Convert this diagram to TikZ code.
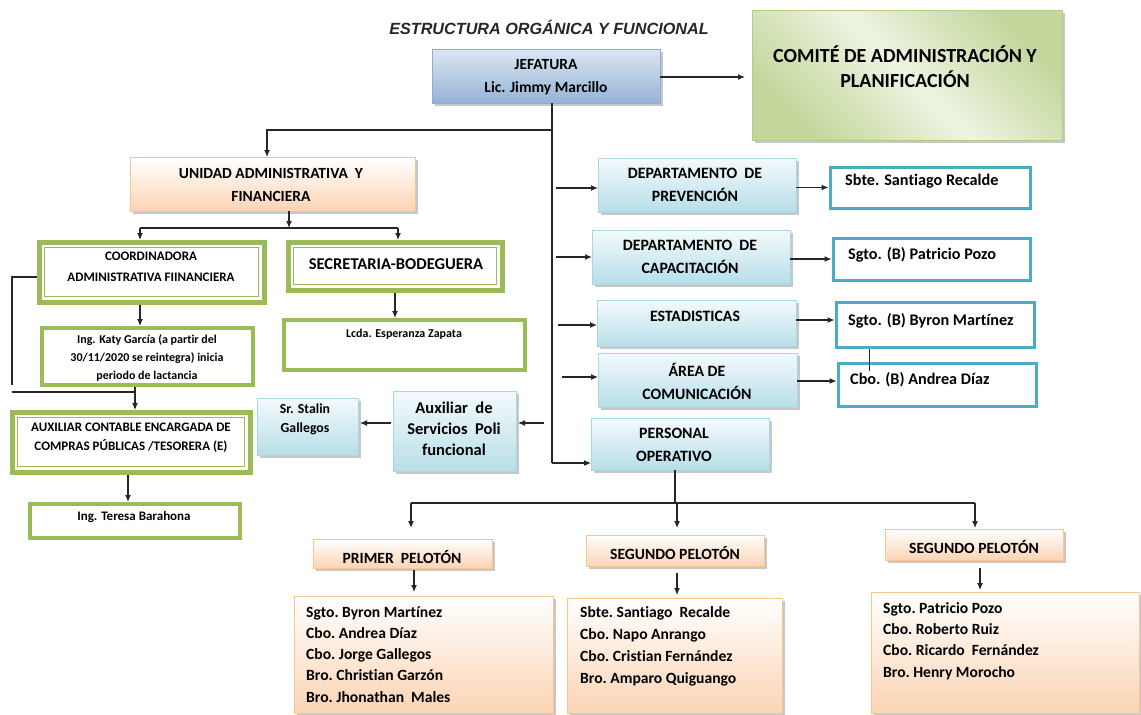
\documentclass[tikz,border=0pt]{standalone}
\usepackage{fontspec}
\setmainfont{Carlito}[Ligatures=NoCommon]
\newfontfamily\titlefont{Liberation Sans}
\usetikzlibrary{arrows.meta,shadows,calc}

\definecolor{arrc}{HTML}{262626}
\definecolor{gbord}{HTML}{9BBB59}
\definecolor{tealb}{HTML}{4BACC6}
\definecolor{obot}{HTML}{FBD4B4}
\definecolor{obord}{HTML}{F9C58F}
\definecolor{btop}{HTML}{F4FAFC}
\definecolor{bbot}{HTML}{B7DEE8}
\definecolor{bbord}{HTML}{A8D8E4}
\definecolor{jtop}{HTML}{DCE6F2}
\definecolor{jbot}{HTML}{95B3D7}
\definecolor{jbord}{HTML}{8EACD4}
\definecolor{cdark}{HTML}{C3D69B}
\definecolor{clight}{HTML}{EEF4E2}
\definecolor{cbord}{HTML}{B5CC88}

\newcommand\mkbox[6]{\node[#2, minimum width=#5pt-#3pt, minimum height=#6pt-#4pt] (#1) at (#3,#4) {};}

\begin{document}
\begin{tikzpicture}[x=1pt,y=-1pt,
  box/.style={rectangle, inner sep=0pt, outer sep=0pt, anchor=north west},
  shad/.style={drop shadow={shadow xshift=2.5pt, shadow yshift=-2.5pt, fill=black, opacity=0.22}},
  jefbox/.style={box, shad, draw=jbord, line width=0.8pt, top color=jtop, bottom color=jbot},
  combox/.style={box, shad, draw=cbord, line width=0.8pt, top color=cdark, bottom color=cdark, middle color=clight, shading angle=-45},
  orbox/.style={box, shad, draw=obord, line width=0.8pt, top color=white, bottom color=obot},
  bluebox/.style={box, shad, draw=bbord, line width=0.8pt, top color=btop, bottom color=bbot},
  grbox/.style={box, draw=gbord, line width=4pt, fill=white},
  dgbox/.style={box, draw=gbord, line width=5pt, fill=white},
  tlbox/.style={box, draw=tealb, line width=3pt, fill=white},
  inner/.style={draw=gbord, line width=1.2pt},
  txt/.style={inner sep=0pt, align=center, font=\bfseries, text=black},
  ln/.style={draw=arrc, line width=1.1pt},
  arr/.style={ln, -{Latex[length=7pt,width=6pt]}},
]
\useasboundingbox (0,0) rectangle (1141,715);
\fill[white] (0,0) rectangle (1141,715);

% title
\node[txt, font=\titlefont\bfseries\itshape\fontsize{16.2}{18}\selectfont, text=arrc] (title) at (549,27) {ESTRUCTURA ORGÁNICA Y FUNCIONAL};

% boxes
\mkbox{jef}{jefbox}{432}{49}{660}{103}
\mkbox{com}{combox}{752}{10}{1062}{140}
\mkbox{uaf}{orbox}{130}{157}{415}{211}
\mkbox{cad}{dgbox}{39}{242}{264}{302}
\mkbox{sec}{dgbox}{288}{242}{502}{290}
\mkbox{katy}{grbox}{42}{328}{253}{385}
\mkbox{esp}{grbox}{284}{320}{525}{370}
\mkbox{aux}{dgbox}{12}{412}{250}{472}
\mkbox{ter}{grbox}{30}{504}{240}{538}
\mkbox{asv}{bluebox}{393}{391}{516}{471}
\mkbox{stl}{bluebox}{257}{398}{358}{455}
\mkbox{dp}{bluebox}{598}{158}{796}{212}
\mkbox{dc}{bluebox}{592}{230}{790}{284}
\mkbox{est}{bluebox}{597}{300}{796}{346}
\mkbox{ac}{bluebox}{598}{353}{797}{407}
\mkbox{po}{bluebox}{591}{418}{769}{470}
\mkbox{sb}{tlbox}{830}{167}{1030}{208}
\mkbox{pz}{tlbox}{833}{238}{1030}{280}
\mkbox{by}{tlbox}{836}{302}{1034}{347}
\mkbox{ad}{tlbox}{838}{363}{1036}{406}
\mkbox{p1}{orbox}{313}{539}{492}{568}
\mkbox{p2}{orbox}{586}{535}{764}{566}
\mkbox{p3}{orbox}{885}{529}{1063}{560}
\mkbox{l1}{orbox}{294}{596}{553}{713}
\mkbox{l2}{orbox}{567}{598}{782}{713}
\mkbox{l3}{orbox}{871}{592}{1139}{713}

% inner lines of double green boxes
\draw[inner] ([xshift=5.5pt,yshift=-5.5pt]cad.north west) rectangle ([xshift=-5.5pt,yshift=5.5pt]cad.south east);
\draw[inner] ([xshift=5.5pt,yshift=-5.5pt]sec.north west) rectangle ([xshift=-5.5pt,yshift=5.5pt]sec.south east);
\draw[inner] ([xshift=5.5pt,yshift=-5.5pt]aux.north west) rectangle ([xshift=-5.5pt,yshift=5.5pt]aux.south east);

% texts
\node[txt, font=\bfseries\fontsize{15.5}{23}\selectfont] (tjef) at (546,77.5) {JEFATURA\\Lic. Jimmy Marcillo};
\node[txt, font=\bfseries\fontsize{20}{25}\selectfont] (tcom) at (905,66.5) {COMITÉ DE ADMINISTRACIÓN Y\\PLANIFICACIÓN};
\node[txt, font=\bfseries\fontsize{15.5}{23}\selectfont] (tuaf) at (271,184.5) {UNIDAD ADMINISTRATIVA\ \ Y\\FINANCIERA};
\node[txt, font=\bfseries\fontsize{13}{21}\selectfont] (tcad) at (151,266.5) {COORDINADORA\\ADMINISTRATIVA FIINANCIERA};
\node[txt, font=\bfseries\fontsize{16.5}{18}\selectfont] (tsec) at (396,264) {SECRETARIA-BODEGUERA};
\node[txt, font=\bfseries\fontsize{12}{18}\selectfont] (tkaty) at (147,358) {Ing. Katy García (a partir del\\30/11/2020 se reintegra) inicia\\periodo de lactancia};
\node[txt, font=\bfseries\fontsize{12}{14}\selectfont] (tesp) at (404,334) {Lcda. Esperanza Zapata};
\node[txt, font=\bfseries\fontsize{13}{19}\selectfont] (taux) at (131,437.5) {AUXILIAR CONTABLE ENCARGADA DE\\COMPRAS PÚBLICAS /TESORERA (E)};
\node[txt, font=\bfseries\fontsize{13}{15}\selectfont] (tter) at (134,517) {Ing. Teresa Barahona};
\node[txt, font=\bfseries\fontsize{16.5}{21}\selectfont] (tasv) at (454,429) {Auxiliar\ \ de\\Servicios\ \ Poli\\funcional};
\node[txt, font=\bfseries\fontsize{13.8}{19}\selectfont] (tstl) at (305,419.5) {Sr. Stalin\\Gallegos};
\node[txt, font=\bfseries\fontsize{15.8}{23}\selectfont] (tdp) at (695,184.5) {DEPARTAMENTO\ \ DE\\PREVENCIÓN};
\node[txt, font=\bfseries\fontsize{15.8}{23}\selectfont] (tdc) at (690,256.5) {DEPARTAMENTO\ \ DE\\CAPACITACIÓN};
\node[txt, font=\bfseries\fontsize{15.8}{18}\selectfont] (test) at (695,316) {ESTADISTICAS};
\node[txt, font=\bfseries\fontsize{15.8}{23}\selectfont] (tac) at (697,381.5) {ÁREA\ DE\\COMUNICACIÓN};
\node[txt, font=\bfseries\fontsize{15.8}{23}\selectfont] (tpo) at (674,444.5) {PERSONAL\\OPERATIVO};
\node[txt, anchor=west, font=\bfseries\fontsize{16.2}{18}\selectfont] (tsb) at (845,181) {Sbte. Santiago Recalde};
\node[txt, anchor=west, font=\bfseries\fontsize{16.2}{18}\selectfont] (tpz) at (848,255) {Sgto. (B) Patricio Pozo};
\node[txt, anchor=west, font=\bfseries\fontsize{16.2}{18}\selectfont] (tby) at (848,321) {Sgto. (B) Byron Martínez};
\node[txt, anchor=west, font=\bfseries\fontsize{16.2}{18}\selectfont] (tad) at (850,380) {Cbo. (B) Andrea Díaz};
\node[txt, font=\bfseries\fontsize{15.6}{18}\selectfont] (tp1) at (402,557) {PRIMER\ \ PELOTÓN};
\node[txt, font=\bfseries\fontsize{15.6}{18}\selectfont] (tp2) at (675,553) {SEGUNDO PELOTÓN};
\node[txt, font=\bfseries\fontsize{15.6}{18}\selectfont] (tp3) at (974,547) {SEGUNDO PELOTÓN};
\node[txt, anchor=base west, align=left, font=\bfseries\fontsize{15.6}{21.25}\selectfont] (tl1) at (306,702) {Sgto.\ Byron\ Martínez\\Cbo.\ Andrea Díaz\\Cbo.\ Jorge Gallegos\\Bro.\ Christian Garzón\\Bro.\ Jhonathan\ \ Males};
\node[txt, anchor=base west, align=left, font=\bfseries\fontsize{15.6}{21.7}\selectfont] (tl2) at (580,683) {Sbte.\ Santiago\ \ Recalde\\Cbo.\ Napo Anrango\\Cbo.\ Cristian Fernández\\Bro.\ Amparo Quiguango};
\node[txt, anchor=base west, align=left, font=\bfseries\fontsize{15.6}{21.3}\selectfont] (tl3) at (883,677) {Sgto.\ Patricio Pozo\\Cbo.\ Roberto Ruiz\\Cbo.\ Ricardo\ \ Fernández\\Bro.\ Henry Morocho};

% connectors
\coordinate (j0) at (552,103);
\coordinate (j1) at (552,130);
\coordinate (j2) at (552,463);
\draw[arr, shorten >=7pt] (jef.east |- 0,77) -- (com.west |- 0,77);
\draw[ln] (j0) -- (j2);
\draw[arr] (j2) -- (j2 -| po.west);
\draw[arr] (j1) -| ([xshift=-5.5pt]uaf.north);

% left branch
\coordinate (u1) at (140,228);
\coordinate (u2) at (398,228);
\draw[arr] ([xshift=16.5pt]uaf.south) -- ++(0,17);
\draw[ln] (u1) -- (u2);
\draw[arr, shorten >=2pt] (u1) -- (u1 |- cad.north);
\draw[arr, shorten >=2pt] (u2) -- (u2 |- sec.north);
\draw[arr, shorten <=2.5pt, shorten >=2pt] ([xshift=-11.5pt]cad.south) -- ++(0,26);
\draw[ln] ([xshift=-2.5pt,yshift=-5pt]cad.west) -- ++(-24.5,0) -- ++(0,108);
\coordinate (b1) at (12,392);
\draw[ln] (b1) -- ++(123,0);
\draw[arr, shorten <=2pt, shorten >=2pt] ([xshift=-12.5pt]katy.south) -- ++(0,27);
\draw[arr, shorten <=2.5pt, shorten >=2pt] ([xshift=-3pt]aux.south) -- ++(0,32);
\draw[arr, shorten <=2.5pt, shorten >=2pt] (sec.south) -- ++(0,30);
\draw[arr] ([xshift=28pt,yshift=8pt]asv.east) -- ([xshift=2pt,yshift=8pt]asv.east);
\draw[arr] ([xshift=-2pt,yshift=8pt]asv.west) -- ++(-31,0);

% right departments
\draw[arr] ([xshift=-42pt,yshift=-3pt]dp.west) -- ([yshift=-3pt]dp.west);
\draw[arr, shorten >=1.5pt] (dp.east |- sb.west) -- (sb.west);
\draw[arr] ([xshift=-36pt]dc.west) -- (dc.west);
\draw[arr, shorten >=1.5pt] (dc.east |- pz.west) -- (pz.west);
\draw[arr] ([xshift=-39pt,yshift=-2pt]est.west) -- ([yshift=-2pt]est.west);
\draw[arr] ([yshift=3pt]est.east) -- ++(38.5,0);
\draw[arr] ([xshift=-36pt,yshift=3pt]ac.west) -- ([yshift=3pt]ac.west);
\draw[arr] ([yshift=-1pt]ac.east) -- ++(39.5,0);
\draw[draw=arrc, line width=0.6pt] ([xshift=33pt,yshift=-2pt]by.south west) -- ++(0,22);

% personal operativo
\coordinate (h1) at (411,503);
\coordinate (h2) at (677,503);
\coordinate (h3) at (975,503);
\draw[ln] ([xshift=-5pt]po.south) -- ++(0,33);
\draw[ln] (h1) -- (h3);
\draw[arr, shorten >=11pt] (h1) -- (h1 |- p1.north);
\draw[arr, shorten >=7pt] (h2) -- (h2 |- p2.north);
\draw[arr, shorten >=1pt] (h3) -- (h3 |- p3.north);
\draw[arr, shorten <=2pt, shorten >=4pt] ([xshift=11.5pt]p1.south) -- ++(0,28);
\draw[arr, shorten <=7pt, shorten >=3pt] ([xshift=2pt]p2.south) -- ++(0,32);
\draw[arr, shorten <=8pt, shorten >=2pt] ([xshift=6pt]p3.south) -- ++(0,32);
\end{tikzpicture}
\end{document}
